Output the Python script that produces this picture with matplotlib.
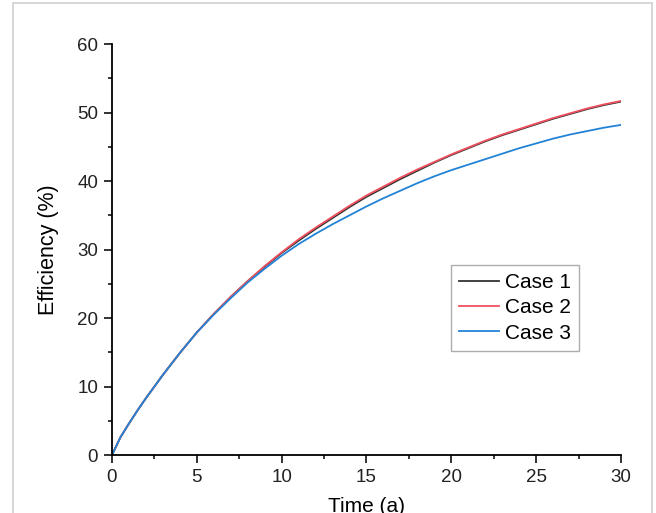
import matplotlib
matplotlib.use("Agg")
import matplotlib.pyplot as plt
from matplotlib.patches import Rectangle
from matplotlib.ticker import MultipleLocator, AutoMinorLocator

plt.rcParams["font.family"] = ["Liberation Sans", "DejaVu Sans"]

# values
time = [0, 0.5, 1, 1.5, 2, 3, 4, 5, 6, 7, 8, 9, 10, 11, 12, 13, 14, 15,
        16, 17, 18, 19, 20, 21, 22, 23, 24, 25, 26, 27, 28, 29, 30]
case1 = [0, 2.6, 4.6, 6.5, 8.3, 11.7, 14.9, 17.9, 20.6, 23.1, 25.4, 27.5, 29.5,
         31.3, 33.0, 34.6, 36.2, 37.7, 39.0, 40.3, 41.5, 42.7, 43.8, 44.8,
         45.8, 46.7, 47.5, 48.3, 49.1, 49.8, 50.5, 51.1, 51.6]
case2 = [0, 2.6, 4.6, 6.5, 8.3, 11.7, 14.9, 17.9, 20.6, 23.1, 25.4, 27.6, 29.6,
         31.5, 33.2, 34.8, 36.4, 37.9, 39.2, 40.5, 41.7, 42.8, 43.9, 44.9,
         45.9, 46.8, 47.6, 48.4, 49.2, 49.9, 50.6, 51.2, 51.7]
case3 = [0, 2.6, 4.6, 6.5, 8.3, 11.7, 14.9, 17.9, 20.5, 22.9, 25.2, 27.2, 29.1,
         30.8, 32.3, 33.7, 35.0, 36.3, 37.5, 38.6, 39.7, 40.7, 41.6, 42.4,
         43.2, 44.0, 44.8, 45.5, 46.2, 46.8, 47.3, 47.8, 48.2]

fig = plt.figure(figsize=(6.56, 5.13), dpi=100)
ax = fig.add_axes([0.1707, 0.113, 0.7759, 0.801])

# thin grey frame round the figure (bottom edge is cut off in the reference)
fig.patches.append(Rectangle((13 / 656, -0.05), 639 / 656, 1.044,
                             transform=fig.transFigure, fill=False,
                             edgecolor="#cfcfcf", linewidth=1.2))

ax.plot(time, case1, color="#333333", linewidth=1.3, label="Case 1")
ax.plot(time, case2, color="#f0505e", linewidth=1.3, label="Case 2")
ax.plot(time, case3, color="#2283d6", linewidth=1.3, label="Case 3")

ax.set_xlim(0, 30)
ax.set_ylim(0, 60)
ax.xaxis.set_major_locator(MultipleLocator(5))
ax.yaxis.set_major_locator(MultipleLocator(10))
ax.xaxis.set_minor_locator(AutoMinorLocator(2))
ax.yaxis.set_minor_locator(AutoMinorLocator(2))

for side in ("top", "right"):
    ax.spines[side].set_visible(False)
for side in ("left", "bottom"):
    ax.spines[side].set_linewidth(1.3)

ax.tick_params(which="major", direction="out", length=6, width=1.3,
               labelsize=13.5, colors="#222222", pad=4)
ax.tick_params(which="minor", direction="out", length=3, width=1.1)

# the x label is clipped by the bottom edge, just as in the reference
ax.set_xlabel("Time (a)", fontsize=15, labelpad=8)
ax.set_ylabel("Efficiency (%)", fontsize=15.5, labelpad=13)

leg = ax.legend(loc="upper right", bbox_to_anchor=(0.917, 0.462), fontsize=15,
                frameon=True, fancybox=False, edgecolor="#999999",
                handlelength=1.9, handletextpad=0.3, borderpad=0.38,
                labelspacing=0.3, borderaxespad=0)
leg.get_frame().set_linewidth(1.0)

fig.savefig("out.png", dpi=100)
plt.close()
